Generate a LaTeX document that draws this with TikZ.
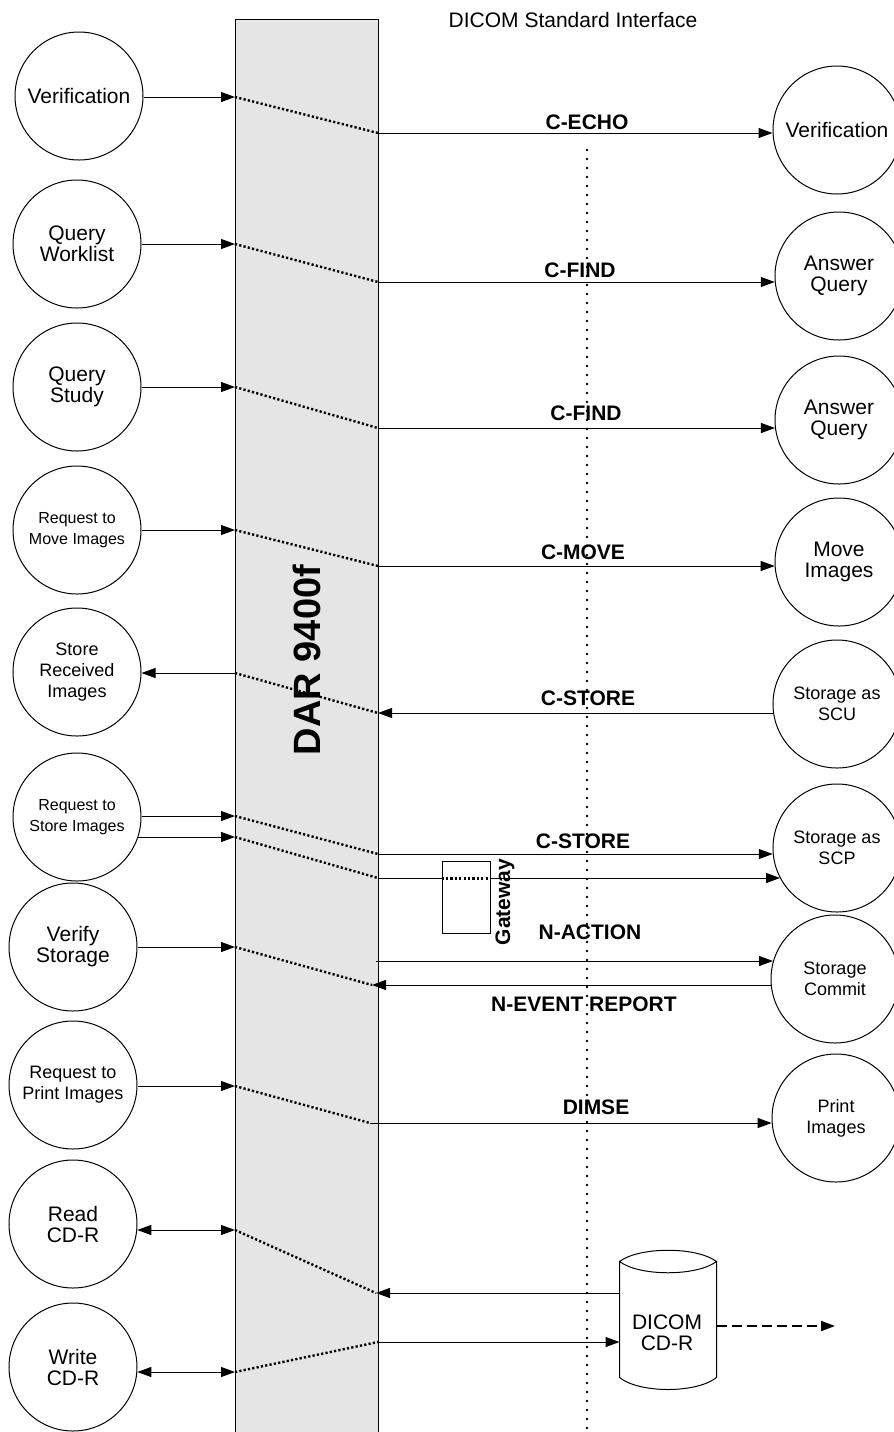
\documentclass[tikz,border=0pt]{standalone}
\usepackage{fontspec}
\setmainfont{Liberation Sans}
\usetikzlibrary{arrows.meta}

\begin{document}
\begin{tikzpicture}[
    x=0.5pt, y=-0.5pt,
    line width=0.5pt,
    % Define styles
    bigproc/.style={
        circle,
        draw,
        minimum size=64pt,
        inner sep=0pt,
        align=center,
        font=\fontsize{10.5}{10.5}\selectfont
    },
    midproc/.style={
        bigproc,
        font=\fontsize{9}{10.5}\selectfont
    },
    smallproc/.style={
        bigproc,
        font=\fontsize{8}{10.5}\selectfont
    },
    msg/.style={
        font=\bfseries\fontsize{10.5}{12}\selectfont
    },
    arrow/.style={
        -{Triangle[length=7pt, width=5pt]}
    },
    dblarrow/.style={
        {Triangle[length=7pt, width=5pt]}-{Triangle[length=7pt, width=5pt]}
    },
    dots/.style={
        line width=1.2pt,
        dash pattern=on 1.1pt off 1.1pt
    },
    iface/.style={
        line width=1.3pt,
        line cap=round,
        dash pattern=on 0pt off 4.5pt
    }
]

\useasboundingbox (0,0) rectangle (894,1432);

% Device column
\node[draw, fill=gray!20, minimum width=71.5pt, minimum height=710.5pt, inner sep=0pt] (darbox) at (306.5,729.5) {};
\node[rotate=90, font=\bfseries\fontsize{19}{20}\selectfont] (darlabel) at (307,660) {DAR 9400f};

% Interface line
\node[font=\fontsize{10.5}{12}\selectfont] (title) at (573,20) {DICOM Standard Interface};
\coordinate (ifacetop) at (587,150);
\coordinate (ifacebot) at (587,1432);
\draw[iface] (ifacetop) -- (ifacebot);

% Local processes
\node[bigproc] (lver) at (79,96) {Verification};
\node[bigproc] (lwork) at (77,244) {Query\\Worklist};
\node[bigproc] (lstudy) at (77,387) {Query\\Study};
\node[smallproc] (lmove) at (77,530) {Request to\\Move Images};
\node[midproc] (lrecv) at (77,672) {Store\\Received\\Images};
\node[smallproc] (lstore) at (77,817) {Request to\\Store Images};
\node[bigproc] (lverify) at (73,947) {Verify\\Storage};
\node[midproc] (lprint) at (73,1085) {Request to\\Print Images};
\node[bigproc] (lread) at (73,1224) {Read\\CD-R};
\node[bigproc] (lwrite) at (73,1367) {Write\\CD-R};

% Remote processes
\node[bigproc] (rver) at (837,130) {Verification};
\node[bigproc] (rans1) at (839,276) {Answer\\Query};
\node[bigproc] (rans2) at (839,420) {Answer\\Query};
\node[bigproc] (rmove) at (839,562) {Move\\Images};
\node[midproc] (rscu) at (837,704) {Storage as\\SCU};
\node[midproc] (rscp) at (837,848) {Storage as\\SCP};
\node[midproc] (rcommit) at (835,979) {Storage\\Commit};
\node[midproc] (rprint) at (836,1118) {Print\\Images};

% Entry and exit points on the device column
\coordinate (in1) at (235,97);    \coordinate (out1) at (378,133);
\coordinate (in2) at (235,244);   \coordinate (out2) at (378,282);
\coordinate (in3) at (235,387);   \coordinate (out3) at (378,428);
\coordinate (in4) at (235,530);   \coordinate (out4) at (378,566);
\coordinate (in5) at (235,673);   \coordinate (out5) at (378,713);
\coordinate (in6) at (235,816);   \coordinate (out6) at (378,854);
\coordinate (in7) at (235,837);   \coordinate (out7) at (378,878);
\coordinate (in8) at (235,947);   \coordinate (out8) at (372,985);
\coordinate (act) at (376,961);
\coordinate (in9) at (235,1086);  \coordinate (out9) at (370,1123);
\coordinate (in10) at (235,1230); \coordinate (out10) at (376,1293);
\coordinate (in11) at (235,1372); \coordinate (out11) at (378,1342);

% Verification
\draw[arrow] (lver.east |- in1) -- (in1);
\draw[dots] (in1) -- (out1);
\draw[arrow] (out1) -- (out1 -| rver.west);
\node[msg] (echo) at (587,122) {C-ECHO};

% Query worklist
\draw[arrow] (lwork.east |- in2) -- (in2);
\draw[dots] (in2) -- (out2);
\draw[arrow] (out2) -- (out2 -| rans1.185);
\node[msg] (find1) at (580,270) {C-FIND};

% Query study
\draw[arrow] (lstudy.east |- in3) -- (in3);
\draw[dots] (in3) -- (out3);
\draw[arrow] (out3) -- (out3 -| rans2.187);
\node[msg] (find2) at (586,413) {C-FIND};

% Move images
\draw[arrow] (lmove.east |- in4) -- (in4);
\draw[dots] (in4) -- (out4);
\draw[arrow] (out4) -- (out4 -| rmove.184);
\node[msg] (move) at (583,552) {C-MOVE};

% Store received images
\draw[arrow] (in5) -- (in5 -| lrecv.east);
\draw[dots] (in5) -- (out5);
\draw[arrow] (out5 -| rscu.188) -- (out5);
\node[msg] (store1) at (588,698) {C-STORE};

% Store images, direct and through gateway
\draw[arrow] (lstore.east |- in6) -- (in6);
\draw[arrow] (lstore.-18 |- in7) -- (in7);
\draw[dots] (in6) -- (out6);
\draw[dots] (in7) -- (out7);
\draw[arrow] (out6) -- (out6 -| rscp.185);
\node[msg] (store2) at (583,841) {C-STORE};
\node[draw, minimum width=24pt, minimum height=36pt, inner sep=0pt] (gate) at (466,897) {};
\node[rotate=90, msg] (gatelabel) at (505,902) {Gateway};
\draw (out7) -- (out7 -| gate.west);
\draw[dots, line width=1.5pt] (out7 -| gate.west) -- (out7 -| gate.east);
\draw[arrow] (out7 -| gate.east) -- (out7 -| rscp.208);

% Storage commitment
\draw[arrow] (lverify.east |- in8) -- (in8);
\draw[dots] (in8) -- (out8);
\draw[arrow] (act) -- (act -| rcommit.164);
\draw[arrow] (out8 -| rcommit.185) -- (out8);
\node[msg] (action) at (590,932) {N-ACTION};
\node[msg] (event) at (584,1004) {N-EVENT REPORT};

% Print
\draw[arrow] (lprint.east |- in9) -- (in9);
\draw[dots] (in9) -- (out9);
\draw[arrow] (out9) -- (out9 -| rprint.184);
\node[msg] (dimse) at (596,1107) {DIMSE};

% CD-R media
\node[minimum width=48pt, minimum height=57.5pt, inner sep=0pt] (cdr) at (668,1319.5) {};
\node[align=center, font=\fontsize{10.5}{10.5}\selectfont] (cdrtext) at (667,1333) {DICOM\\CD-R};
\draw (cdr.north west) .. controls +(20,-15) and +(-20,-15) .. (cdr.north east)
      .. controls +(-20,15) and +(20,15) .. (cdr.north west)
      -- (cdr.south west)
      .. controls +(20,16) and +(-20,16) .. (cdr.south east)
      -- (cdr.north east);
\coordinate (export) at (835,1326);
\draw[arrow, line width=1pt, dash pattern=on 5pt off 2.5pt] (export -| cdr.east) -- (export);

\draw[dblarrow] (lread.-5 |- in10) -- (in10);
\draw[dots] (in10) -- (out10);
\draw[arrow] (out10 -| cdr.west) -- (out10);

\draw[dblarrow] (lwrite.-4 |- in11) -- (in11);
\draw[dots] (in11) -- (out11);
\draw[arrow] (out11) -- (out11 -| cdr.west);
\end{tikzpicture}
\end{document}
